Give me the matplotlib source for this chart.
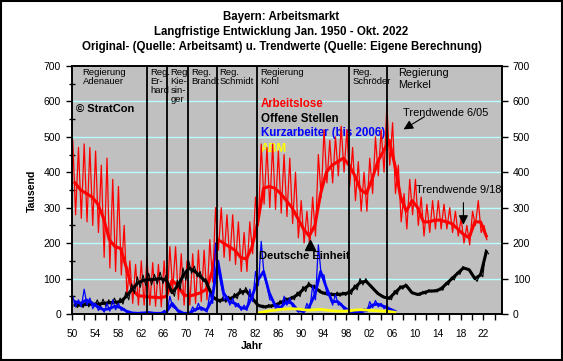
import numpy as np
import matplotlib
matplotlib.use("Agg")
import matplotlib.pyplot as plt
from matplotlib.patches import Rectangle
from matplotlib.ticker import MultipleLocator, FixedLocator

plt.rcParams['font.family'] = ['Liberation Sans', 'DejaVu Sans']

################## Data (Tausend) ##############################################

years = np.arange(1950, 2023)

# Arbeitslose: winter peak, summer low, trend
al_winter = [490, 470, 480, 470, 460, 420, 440, 380, 360, 250,
             150, 140, 150, 160, 145, 140, 150, 190, 190, 170,
             150, 170, 180, 180, 210, 300, 300, 280, 280, 260,
             230, 260, 330, 480, 470, 480, 460, 450, 440, 400,
             320, 290, 330, 450, 520, 490, 500, 530, 520, 470,
             430, 400, 440, 500, 520, 590, 540, 420, 340, 380,
             380, 330, 310, 320, 320, 310, 300, 290, 270, 250,
             290, 320, 250]
al_summer = [280, 270, 260, 250, 230, 160, 130, 120, 110, 50,
             30, 25, 25, 25, 22, 20, 25, 70, 40, 25,
             25, 30, 35, 40, 90, 180, 160, 150, 140, 120,
             120, 170, 250, 310, 300, 295, 285, 275, 255, 215,
             200, 190, 220, 330, 370, 370, 390, 400, 360, 320,
             290, 290, 340, 390, 400, 420, 340, 260, 240, 280,
             250, 220, 230, 240, 240, 240, 230, 220, 200, 195,
             250, 230, 210]
al_trend = [370, 350, 340, 330, 310, 270, 210, 190, 185, 130,
            70, 52, 50, 48, 47, 46, 50, 95, 80, 55,
            50, 55, 60, 70, 120, 210, 200, 190, 180, 160,
            155, 190, 260, 355, 360, 355, 340, 320, 300, 270,
            240, 220, 250, 340, 400, 420, 430, 440, 420, 390,
            350, 340, 380, 430, 460, 490, 420, 330, 290, 320,
            300, 260, 260, 265, 265, 260, 255, 240, 225, 215,
            260, 260, 220]

# Offene Stellen: spring high, winter low, trend
os_hi = [35, 33, 38, 36, 40, 42, 40, 45, 45, 62,
         85, 105, 110, 115, 112, 118, 108, 70, 95, 130,
         150, 135, 120, 100, 60, 45, 48, 50, 58, 72,
         75, 52, 30, 25, 27, 30, 38, 46, 50, 62,
         78, 90, 82, 68, 62, 60, 62, 62, 66, 82,
         100, 100, 80, 63, 52, 48, 66, 80, 85, 64,
         58, 64, 68, 68, 74, 88, 104, 118, 134, 128,
         102, 114, 182]
os_lo = [18, 18, 20, 22, 20, 22, 25, 24, 28, 40,
         58, 75, 80, 82, 85, 86, 80, 50, 68, 95,
         115, 105, 92, 78, 42, 32, 33, 36, 43, 54,
         56, 38, 20, 16, 18, 21, 27, 35, 40, 49,
         63, 75, 68, 56, 52, 50, 50, 52, 55, 68,
         82, 85, 70, 53, 44, 40, 55, 70, 75, 56,
         52, 56, 62, 62, 67, 82, 96, 112, 126, 118,
         92, 105, 170]
os_trend = [25, 25, 27, 28, 28, 30, 32, 33, 35, 50,
            70, 88, 95, 97, 98, 100, 95, 60, 80, 110,
            130, 120, 105, 90, 50, 38, 40, 42, 50, 62,
            65, 45, 25, 20, 22, 25, 32, 40, 45, 55,
            70, 82, 75, 62, 57, 55, 55, 57, 60, 75,
            90, 92, 75, 58, 48, 44, 60, 75, 80, 60,
            55, 60, 65, 65, 70, 85, 100, 115, 130, 125,
            100, 110, 175]

# Kurzarbeiter (bis 2006)
ka_years = np.arange(1950, 2007)
ka_winter = [50, 40, 70, 45, 30, 20, 30, 40, 30, 15,
             5, 3, 5, 8, 3, 2, 10, 50, 15, 3,
             2, 20, 30, 15, 60, 200, 80, 50, 45, 30,
             25, 70, 120, 205, 80, 40, 25, 50, 45, 15,
             10, 30, 80, 195, 110, 50, 55, 30, 15, 10,
             8, 15, 35, 38, 30, 25, 12]
ka_summer = [20, 20, 25, 15, 10, 5, 8, 12, 10, 3,
             1, 1, 1, 2, 1, 1, 3, 20, 4, 1,
             1, 8, 10, 5, 30, 120, 40, 25, 20, 10,
             10, 35, 80, 110, 40, 15, 12, 25, 20, 5,
             4, 12, 40, 110, 55, 25, 25, 12, 5, 4,
             3, 6, 18, 20, 15, 10, 5]
ka_trend = [35, 30, 40, 30, 20, 12, 15, 22, 18, 8,
            3, 2, 3, 4, 2, 2, 6, 30, 10, 2,
            2, 12, 18, 10, 40, 150, 60, 35, 30, 18,
            15, 50, 95, 120, 60, 25, 18, 35, 30, 10,
            7, 20, 55, 120, 75, 35, 35, 20, 8, 6,
            5, 10, 25, 28, 22, 15, 8]

# ABM
abm_years = np.arange(1982, 2007)
abm = [3, 6, 9, 11, 13, 14, 15, 14, 12, 11, 12, 13, 11,
       9, 8, 8, 9, 11, 12, 11, 10, 9, 8, 7, 5]

# Regierungswechsel (position on chart)
gov_lines = [1963.15, 1966.65, 1970.33, 1975.3, 1982.4, 1998.5, 2005.2]

################## Helpers #####################################################

def zigzag(yrs, hi, lo, off_hi, off_lo):
    x = np.column_stack([yrs + off_hi, yrs + off_lo]).ravel()
    y = np.column_stack([hi, lo]).ravel()
    return x, y

################## Figure ######################################################

fig = plt.figure(figsize=(5.63, 3.61), dpi=100)
ax = fig.add_axes([0.1282, 0.1302, 0.7629, 0.687])
ax.set_facecolor('#c0c0c0')

ax.set_xlim(1950, 2025.2)
ax.set_ylim(0, 700)

for v in range(100, 700, 100):
    ax.axhline(v, color='#b8ffff', lw=1, zorder=1)

x, y = zigzag(years, al_winter, al_summer, 0.1, 0.6)
ax.plot(x, y, color='red', lw=0.9, zorder=2)
ax.plot(years + 0.5, al_trend, color='red', lw=2.2, zorder=2.1)

x, y = zigzag(years, os_hi, os_lo, 0.4, 0.9)
ax.plot(x, y, color='black', lw=0.8, zorder=2.2)
ax.plot(years + 0.5, os_trend, color='black', lw=2.2, zorder=2.3)

x, y = zigzag(ka_years, ka_winter, ka_summer, 0.1, 0.6)
ax.plot(x, y, color='blue', lw=0.9, zorder=2.4)
ax.plot(ka_years + 0.5, ka_trend, color='blue', lw=2.0, zorder=2.5)

ax.plot(abm_years + 0.5, abm, color='yellow', lw=2.0, zorder=2.6)

for g in gov_lines:
    ax.axvline(g, color='black', lw=1.3, zorder=3)

################## Texts #######################################################

gov_labels = [(1951.84, "Regierung\nAdenauer"), (1963.75, "Reg.\nEr-\nhard"),
              (1967.25, "Reg\nKie-\nsin-\nger"), (1970.93, "Reg.\nBrandt"),
              (1975.76, "Reg.\nSchmidt"), (1983.01, "Regierung\nKohl"),
              (1999.12, "Reg.\nSchröder")]
for gx, txt in gov_labels:
    ax.text(gx, 693, txt, fontsize=6.8, va='top', ha='left', linespacing=1.0, zorder=1.5)
ax.text(2007.0, 695, "Regierung\nMerkel", fontsize=7.8, va='top', ha='left',
        linespacing=1.25, zorder=1.5)

ax.text(1950.6, 579, "© StratCon", fontsize=8, fontweight='bold', va='center', zorder=1.5)

legend_items = [("Arbeitslose", 'red', 593), ("Offene Stellen", 'black', 550),
                ("Kurzarbeiter (bis 2006)", 'blue', 511), ("ABM", 'yellow', 466)]
for txt, col, yy in legend_items:
    ax.text(1983.07, yy, txt, color=col, fontsize=8.3, fontweight='bold',
            va='center', zorder=1.5)

ax.text(1982.7, 164, "Deutsche Einheit", fontsize=8, fontweight='bold', va='center', zorder=4)
ax.plot([1991.65], [195], marker='^', color='black', markersize=7, zorder=4)

ax.text(2007.93, 567, "Trendwende 6/05", fontsize=7.9, va='center', zorder=4)
ax.annotate("", xy=(2007.6, 517), xytext=(2012.1, 561),
            arrowprops=dict(arrowstyle='-|>', color='black', lw=0.8, mutation_scale=14),
            zorder=4)
ax.text(2010.2, 350, "Trendwende 9/18", fontsize=7.9, va='center', zorder=4)
ax.annotate("", xy=(2018.5, 244), xytext=(2018.5, 322),
            arrowprops=dict(arrowstyle='-|>', color='black', lw=0.8, mutation_scale=14),
            zorder=4)

################## Axes ########################################################

ax.xaxis.set_major_locator(FixedLocator(np.arange(1950, 2023, 4)))
ax.xaxis.set_minor_locator(FixedLocator(np.arange(1952, 2026, 4)))
ax.set_xticklabels([f"{yy % 100:02d}" for yy in range(1950, 2023, 4)])
ax.tick_params(axis='x', which='both', direction='out', length=4, width=1,
               labelsize=7.3, pad=6.5)
ax.yaxis.set_major_locator(MultipleLocator(100))
ax.yaxis.set_minor_locator(MultipleLocator(50))
ax.tick_params(axis='y', which='major', direction='out', length=4, width=1,
               labelsize=7.5, pad=4)
ax.tick_params(axis='y', which='minor', direction='inout', length=5, width=1)

ax2 = ax.twinx()
ax2.set_ylim(0, 700)
ax2.yaxis.set_major_locator(MultipleLocator(100))
ax2.tick_params(axis='y', direction='out', length=4, width=1, labelsize=7.5, pad=4)

for a in (ax, ax2):
    for s in a.spines.values():
        s.set_linewidth(1.2)
        s.set_color('black')

fig.text(0.057, 0.471, "Tausend", rotation=90, fontsize=7.6, fontweight='bold',
         ha='center', va='center')
fig.text(0.4476, 0.0416, "Jahr", fontsize=7.6, fontweight='bold', ha='center', va='center')

titles = ["Bayern: Arbeitsmarkt", "Langfristige Entwicklung Jan. 1950 - Okt. 2022",
          "Original- (Quelle: Arbeitsamt) u. Trendwerte (Quelle: Eigene Berechnung)"]
for i, t in enumerate(titles):
    fig.text(0.5, 0.953 - i * 0.0415, t, fontsize=8.3, fontweight='bold',
             ha='center', va='center')

fig.patches.append(Rectangle((0.0015, 0.0025), 0.997, 0.995, transform=fig.transFigure,
                             fill=False, edgecolor='black', lw=1.5))

fig.savefig("out.png", dpi=100)
